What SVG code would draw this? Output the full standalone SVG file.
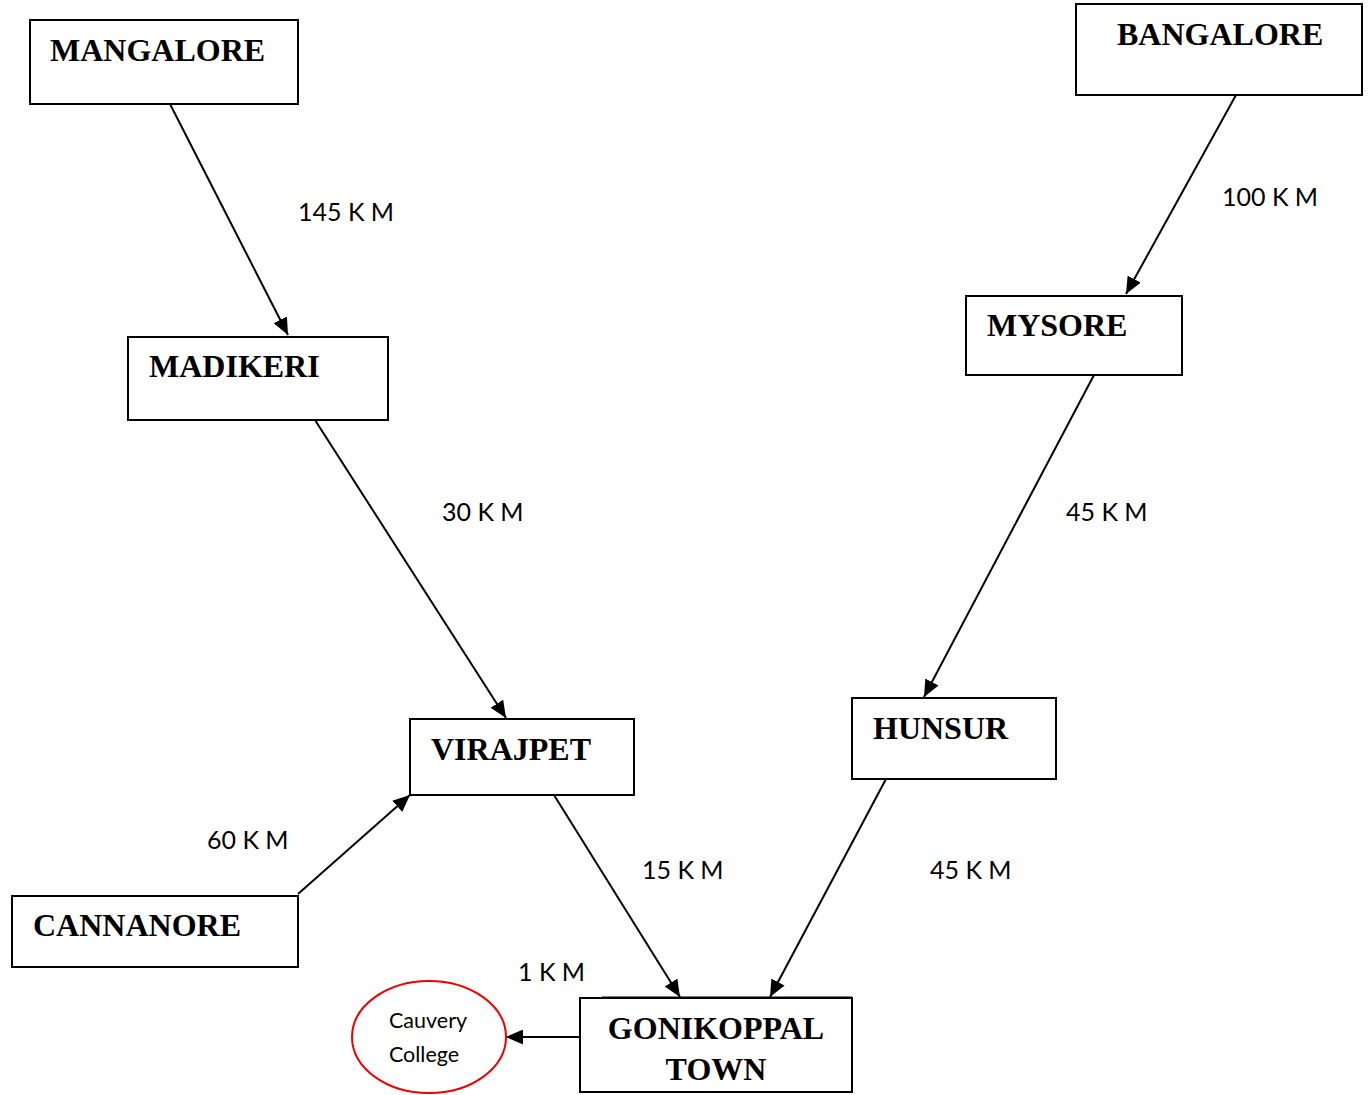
<svg xmlns="http://www.w3.org/2000/svg" width="1371" height="1095" viewBox="0 0 1371 1095">
<style>
.box{fill:#fff;stroke:#000;stroke-width:2}
.t{font-family:"Liberation Serif","Times New Roman",serif;font-weight:bold;font-size:32px;fill:#000}
.lbl{font-family:Lato,"Open Sans","Liberation Sans",sans-serif;font-size:25px;fill:#000}
.c{stroke:#000;stroke-width:2;fill:none;marker-end:url(#ah)}
</style>
<defs>
<marker id="ah" markerUnits="userSpaceOnUse" markerWidth="17" markerHeight="15" refX="17" refY="7.5" orient="auto">
<path d="M0,0 L17,7.5 L0,15 Z" fill="#000"/>
</marker>
</defs>
<rect width="1371" height="1095" fill="#fff"/>
<g id="connectors">
<line class="c" x1="170" y1="104" x2="288" y2="335"/>
<line class="c" x1="1236" y1="95" x2="1126" y2="294"/>
<line class="c" x1="315" y1="420" x2="506" y2="718"/>
<line class="c" x1="1094" y1="375" x2="924" y2="697"/>
<line class="c" x1="298" y1="894" x2="410" y2="795"/>
<line class="c" x1="554" y1="795" x2="680" y2="997"/>
<line class="c" x1="886" y1="779" x2="770" y2="997"/>
<line class="c" x1="580" y1="1037" x2="506" y2="1037"/>
</g>
<g id="labels">
<text class="lbl" x="298" y="221">145 K M</text>
<text class="lbl" x="1222" y="206">100 K M</text>
<text class="lbl" x="442" y="521">30 K M</text>
<text class="lbl" x="1066" y="521">45 K M</text>
<text class="lbl" x="207" y="849">60 K M</text>
<text class="lbl" x="642" y="879">15 K M</text>
<text class="lbl" x="930" y="879">45 K M</text>
<text class="lbl" x="518" y="981">1 K M</text>
</g>
<g id="mangalore"><rect class="box" x="30" y="20" width="268" height="84"/><text class="t" x="50" y="61">MANGALORE</text></g>
<g id="bangalore"><rect class="box" x="1076" y="4" width="286" height="91"/><text class="t" x="1117" y="45">BANGALORE</text></g>
<g id="madikeri"><rect class="box" x="128" y="337" width="260" height="83"/><text class="t" x="149" y="377">MADIKERI</text></g>
<g id="mysore"><rect class="box" x="966" y="296" width="216" height="79"/><text class="t" x="987" y="336">MYSORE</text></g>
<g id="virajpet"><rect class="box" x="410" y="719" width="224" height="76"/><text class="t" x="431" y="760">VIRAJPET</text></g>
<g id="hunsur"><rect class="box" x="852" y="698" width="204" height="81"/><text class="t" x="873" y="739">HUNSUR</text></g>
<g id="cannanore"><rect class="box" x="12" y="896" width="286" height="71"/><text class="t" x="33" y="936">CANNANORE</text></g>
<g id="gonikoppal"><rect class="box" x="580" y="998" width="272" height="94"/><line x1="602" y1="997" x2="852" y2="997" stroke="#000" stroke-width="1"/><text class="t" x="716" y="1039" text-anchor="middle">GONIKOPPAL</text><text class="t" x="716" y="1080" text-anchor="middle">TOWN</text></g>
<g id="college"><ellipse cx="429" cy="1037" rx="77" ry="56" fill="#fff" stroke="#e00" stroke-width="2"/><text class="lbl" style="font-size:21.5px" x="428" y="1028" text-anchor="middle">Cauvery</text><text class="lbl" style="font-size:21.5px" x="424" y="1062" text-anchor="middle">College</text></g>
</svg>
